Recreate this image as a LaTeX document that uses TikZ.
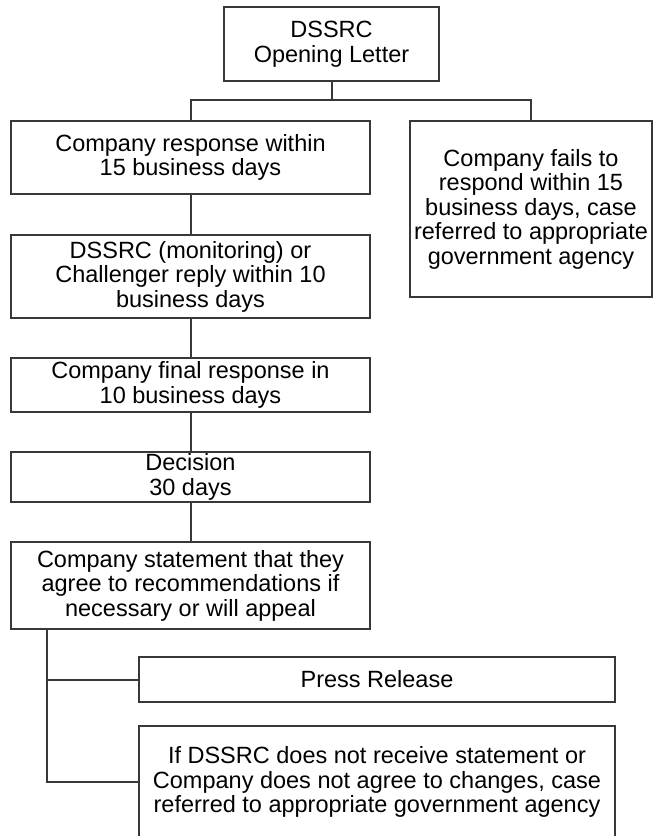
\documentclass[tikz,border=0pt]{standalone}
\usepackage{fontspec}
\setmainfont{Liberation Sans}
\definecolor{boxline}{HTML}{383838}
\tikzset{
  stage/.style={draw=boxline,line width=2pt,align=center,inner sep=0pt,
    minimum width=359pt,font=\fontsize{23.5}{24.5}\selectfont},
  link/.style={draw=boxline,line width=2pt}
}
\begin{document}
\begin{tikzpicture}[x=1pt,y=-1pt,line join=miter]
	\useasboundingbox (0,0) rectangle (654,836);
	\clip (0,0) rectangle (654,836);
	% main column
	\node[stage,minimum width=215pt,minimum height=74pt] (open) at (331.5,44) {DSSRC\\Opening Letter};
	\node[stage,minimum height=73pt] (resp) at (190.5,157.5) {Company response within\\15 business days};
	\node[stage,minimum width=242pt,minimum height=176pt] (fail) at (531,209) {Company fails to\\respond within 15\\business days, case\\referred to appropriate\\government agency};
	\node[stage,minimum height=83pt] (reply) at (190.5,276.5) {DSSRC (monitoring) or\\Challenger reply within 10\\business days};
	\node[stage,minimum height=54pt] (final) at (190.5,385) {Company final response in\\10 business days};
	\node[stage,minimum height=50pt] (decide) at (190.5,477) {Decision\\30 days};
	\node[stage,minimum height=87pt] (agree) at (190.5,585.5) {Company statement that they\\agree to recommendations if\\necessary or will appeal};
	% outcomes
	\node[stage,minimum width=476pt,minimum height=45pt] (press) at (377,679.5) {Press Release};
	\node[stage,minimum width=476pt,minimum height=112pt] (refer) at (377,782) {If DSSRC does not receive statement or\\Company does not agree to changes, case\\referred to appropriate government agency};
	% connectors
	\coordinate (split) at (331.5,100);
	\draw[link] (open.south) -- (split) -| (resp.north);
	\draw[link] (split) -| (fail.north);
	\draw[link] (resp) -- (reply) -- (final) -- (decide) -- (agree);
	\coordinate (trunk) at (47,629);
	\draw[link] (trunk) |- (press.west);
	\draw[link] (trunk) |- (refer.west);
\end{tikzpicture}
\end{document}
